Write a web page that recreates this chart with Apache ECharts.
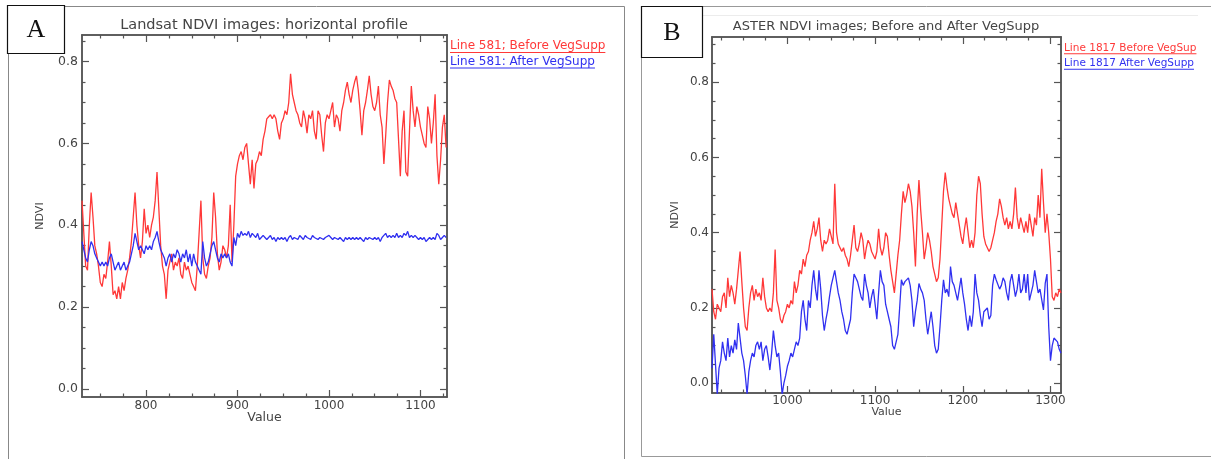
<!DOCTYPE html>
<html><head><meta charset="utf-8">
<script src="https://cdn.jsdelivr.net/npm/echarts@6/dist/echarts.min.js"></script>
<style>html,body{margin:0;padding:0;background:#fff}#c{width:1211px;height:459px}</style>
</head><body><div id="c"></div>
<script>
// ---------- DATA ----------
const aXStart = 730, aXStep = 2;
const aBefore = [
0.46,0.38,0.30,0.29,0.40,0.48,0.42,0.35,0.33,0.30,
0.26,0.25,0.28,0.27,0.31,0.36,0.30,0.23,0.24,0.22,
0.25,0.22,0.26,0.24,0.27,0.29,0.32,0.36,0.42,0.48,
0.40,0.35,0.32,0.36,0.44,0.38,0.40,0.37,0.40,0.42,
0.46,0.53,0.44,0.35,0.30,0.28,0.22,0.29,0.31,0.33,
0.29,0.31,0.30,0.32,0.28,0.27,0.31,0.29,0.30,0.28,
0.26,0.25,0.24,0.30,0.38,0.46,0.32,0.28,0.27,0.30,
0.32,0.37,0.48,0.42,0.33,0.29,0.31,0.35,0.34,0.32,
0.35,0.45,0.31,0.40,0.52,0.55,0.57,0.58,0.56,0.59,
0.60,0.55,0.50,0.56,0.49,0.55,0.56,0.58,0.57,0.61,
0.63,0.66,0.665,0.67,0.66,0.67,0.66,0.63,0.61,0.65,
0.66,0.68,0.67,0.70,0.77,0.72,0.70,0.68,0.67,0.65,
0.64,0.68,0.66,0.625,0.67,0.66,0.68,0.63,0.61,0.68,
0.67,0.62,0.58,0.65,0.67,0.66,0.68,0.70,0.64,0.67,
0.66,0.63,0.68,0.70,0.73,0.75,0.72,0.70,0.73,0.75,
0.765,0.73,0.68,0.62,0.68,0.70,0.73,0.765,0.72,0.69,
0.68,0.70,0.74,0.67,0.64,0.55,0.62,0.70,0.755,0.74,
0.73,0.71,0.70,0.61,0.52,0.63,0.68,0.53,0.52,0.63,
0.74,0.68,0.64,0.69,0.67,0.64,0.62,0.60,0.59,0.69,
0.66,0.60,0.65,0.72,0.57,0.50,0.56,0.64,0.67,0.59];
const aAfter = [
0.36,0.34,0.32,0.31,0.34,0.36,0.35,0.33,0.32,0.31,
0.30,0.31,0.30,0.31,0.30,0.32,0.33,0.31,0.29,0.30,
0.31,0.29,0.30,0.31,0.29,0.30,0.31,0.33,0.35,0.38,
0.36,0.34,0.35,0.34,0.33,0.35,0.34,0.35,0.34,0.36,
0.37,0.385,0.36,0.34,0.33,0.32,0.30,0.32,0.33,0.31,
0.33,0.32,0.34,0.33,0.31,0.33,0.32,0.34,0.31,0.33,
0.30,0.33,0.31,0.30,0.29,0.28,0.36,0.32,0.30,0.31,
0.33,0.35,0.36,0.34,0.32,0.31,0.33,0.32,0.33,0.32,
0.33,0.31,0.30,0.37,0.35,0.38,0.37,0.385,0.375,0.38,
0.375,0.385,0.37,0.38,0.375,0.37,0.38,0.365,0.37,0.375,
0.37,0.365,0.37,0.375,0.365,0.37,0.36,0.37,0.365,0.37,
0.365,0.37,0.36,0.37,0.375,0.365,0.37,0.37,0.365,0.375,
0.37,0.365,0.375,0.37,0.37,0.365,0.375,0.37,0.37,0.365,
0.37,0.37,0.365,0.37,0.37,0.375,0.37,0.365,0.37,0.37,
0.365,0.37,0.365,0.36,0.37,0.365,0.37,0.365,0.37,0.365,
0.37,0.365,0.37,0.365,0.36,0.37,0.365,0.37,0.37,0.365,
0.37,0.365,0.37,0.36,0.37,0.375,0.38,0.37,0.375,0.37,
0.375,0.37,0.38,0.37,0.375,0.37,0.38,0.375,0.385,0.37,
0.375,0.37,0.375,0.37,0.365,0.37,0.365,0.37,0.36,0.365,
0.37,0.365,0.37,0.365,0.38,0.375,0.365,0.37,0.375,0.37];

const bXStart = 914, bXStep = 2;
const bBefore = [
0.25,0.19,0.17,0.21,0.20,0.19,0.23,0.24,0.20,0.28,
0.23,0.26,0.24,0.21,0.25,0.30,0.35,0.27,0.20,0.15,
0.14,0.20,0.24,0.26,0.22,0.25,0.23,0.24,0.22,0.28,
0.23,0.20,0.19,0.20,0.19,0.24,0.355,0.22,0.20,0.17,
0.16,0.18,0.19,0.21,0.20,0.22,0.21,0.27,0.24,0.26,
0.30,0.29,0.33,0.31,0.34,0.35,0.38,0.40,0.43,0.39,
0.41,0.44,0.38,0.35,0.38,0.37,0.38,0.41,0.39,0.37,
0.53,0.40,0.37,0.36,0.35,0.36,0.34,0.33,0.31,0.34,
0.38,0.42,0.36,0.35,0.37,0.40,0.38,0.33,0.36,0.38,
0.37,0.35,0.34,0.33,0.35,0.41,0.36,0.34,0.36,0.40,
0.39,0.34,0.30,0.27,0.24,0.29,0.34,0.38,0.45,0.51,
0.48,0.50,0.53,0.51,0.47,0.40,0.31,0.45,0.54,0.46,
0.40,0.33,0.36,0.40,0.38,0.35,0.31,0.29,0.27,0.28,
0.33,0.42,0.51,0.56,0.52,0.49,0.47,0.45,0.44,0.48,
0.45,0.42,0.39,0.37,0.41,0.44,0.40,0.36,0.38,0.36,
0.40,0.50,0.55,0.53,0.45,0.39,0.37,0.36,0.35,0.36,
0.38,0.40,0.43,0.45,0.49,0.47,0.44,0.42,0.44,0.41,
0.43,0.41,0.45,0.52,0.44,0.41,0.44,0.42,0.40,0.43,
0.40,0.45,0.42,0.39,0.44,0.42,0.50,0.44,0.57,0.48,
0.40,0.45,0.40,0.33,0.23,0.22,0.24,0.23,0.25,0.24];
const bAfter = [
0.04,0.13,0.05,-0.03,0.04,0.06,0.11,0.08,0.06,0.12,
0.07,0.10,0.08,0.115,0.09,0.16,0.12,0.08,0.06,0.02,
-0.03,0.03,0.06,0.08,0.07,0.10,0.11,0.09,0.11,0.06,
0.09,0.10,0.07,0.035,0.08,0.14,0.10,0.07,0.08,0.03,
-0.03,0.00,0.02,0.045,0.06,0.08,0.07,0.09,0.11,0.10,
0.12,0.19,0.22,0.17,0.14,0.22,0.20,0.26,0.30,0.25,
0.22,0.30,0.25,0.18,0.14,0.17,0.195,0.23,0.26,0.28,
0.30,0.27,0.24,0.22,0.19,0.17,0.14,0.13,0.15,0.17,
0.24,0.29,0.28,0.27,0.25,0.23,0.22,0.29,0.26,0.24,
0.20,0.23,0.25,0.21,0.17,0.24,0.30,0.27,0.26,0.21,
0.19,0.17,0.15,0.10,0.09,0.11,0.13,0.20,0.275,0.26,
0.27,0.265,0.28,0.26,0.22,0.15,0.19,0.22,0.265,0.25,
0.24,0.22,0.17,0.13,0.16,0.19,0.15,0.10,0.08,0.09,
0.15,0.22,0.275,0.24,0.25,0.23,0.31,0.27,0.26,0.24,
0.22,0.25,0.28,0.24,0.21,0.17,0.14,0.18,0.15,0.19,
0.29,0.24,0.22,0.18,0.15,0.19,0.195,0.20,0.17,0.18,
0.26,0.29,0.275,0.27,0.25,0.26,0.28,0.27,0.24,0.22,
0.27,0.29,0.26,0.23,0.25,0.29,0.24,0.25,0.29,0.24,
0.29,0.22,0.24,0.26,0.30,0.27,0.24,0.25,0.25,0.195,
0.265,0.29,0.15,0.06,0.10,0.12,0.115,0.11,0.09,0.08];

const aXTicks = [800, 900, 1000, 1100];
const bXTicks = [1000, 1100, 1200, 1300];
const yTicks = [0.0, 0.2, 0.4, 0.6, 0.8];
const aTitle = 'Landsat NDVI images: horizontal profile';
const bTitle = 'ASTER NDVI images; Before and After VegSupp';
const aLegend = ['Line 581; Before VegSupp', 'Line 581: After VegSupp'];
const bLegend = ['Line 1817 Before VegSup', 'Line 1817 After VegSupp'];
const xName = 'Value', yName = 'NDVI';
const panelLetters = ['A', 'B'];

// ---------- STYLE ----------
const AX = '#555', TXT = '#444', FONT = 'DejaVu Sans';
const RED = '#ff3838', BLUE = '#3030f0';

function pairs(start, step, vals) { return vals.map((v, i) => [start + i * step, v]); }
function minorList(lo, hi, step, majors) {
  const out = [];
  for (let k = Math.ceil(lo / step - 1e-9); k * step <= hi + 1e-9; k++) {
    const r = Math.round(k * step * 1000) / 1000;
    if (!majors.some(m => Math.abs(m - r) < 1e-9)) out.push(r);
  }
  return out;
}

function axisSet(dim, grid, min, max, majors, minors, opt) {
  const base = { gridIndex: grid, type: 'value', min, max, splitLine: { show: false },
    axisLine: { show: true, onZero: false, lineStyle: { color: AX, width: 1.5 } } };
  const pos = dim === 'x' ? ['bottom', 'top'] : ['left', 'right'];
  const res = [];
  pos.forEach((p, pi) => {
    const major = Object.assign({}, base, {
      position: p,
      axisTick: { show: true, inside: true, length: 7, customValues: majors, lineStyle: { color: AX, width: 1.2 } },
      axisLabel: pi === 0 ? { show: true, customValues: majors, margin: opt.margin, color: TXT, fontFamily: FONT, fontSize: opt.fs,
        formatter: v => dim === 'y' ? Number(v).toFixed(1) : String(v) } : { show: false }
    });
    if (pi === 0) {
      major.name = opt.name; major.nameLocation = 'middle'; major.nameGap = opt.nameGap;
      major.nameMoveOverlap = false;
      major.nameTextStyle = { color: TXT, fontFamily: FONT, fontSize: opt.nfs };
    }
    const minor = Object.assign({}, base, {
      position: p,
      axisTick: { show: true, inside: true, length: 3.5, customValues: minors, lineStyle: { color: AX, width: 1.2 } },
      axisLabel: { show: false }
    });
    res.push(major, minor);
  });
  return res;
}

const aXR = [730, 1129], aYR = [-0.02, 0.865];
const bXR = [914, 1312], bYR = [-0.026, 0.92];

const xAxis = [].concat(
  axisSet('x', 0, aXR[0], aXR[1], aXTicks, minorList(aXR[0], aXR[1], 25, aXTicks), { margin: 3, name: xName, nameGap: 14, fs: 12, nfs: 12.5 }),
  axisSet('x', 1, bXR[0], bXR[1], bXTicks, minorList(bXR[0], bXR[1], 25, bXTicks), { margin: 2, name: xName, nameGap: 14, fs: 12, nfs: 11 })
);
const yAxis = [].concat(
  axisSet('y', 0, aYR[0], aYR[1], yTicks, minorList(aYR[0], aYR[1], 0.05, yTicks), { margin: 4, name: yName, nameGap: 36, fs: 12.5, nfs: 11 }),
  axisSet('y', 1, bYR[0], bYR[1], yTicks, minorList(bYR[0], bYR[1], 0.05, yTicks), { margin: 3, name: yName, nameGap: 31, fs: 12, nfs: 11 })
);

function lineSeries(xi, yi, data, color) {
  return { type: 'line', xAxisIndex: xi, yAxisIndex: yi, data, symbol: 'none', showSymbol: false, clip: true,
    lineStyle: { color, width: 1.3 }, itemStyle: { color }, animation: false, silent: true };
}

const ctx = document.createElement('canvas').getContext('2d');
function legendItems(x, y0, dy, texts, fs) {
  const cols = [RED, BLUE];
  const font = fs + 'px "DejaVu Sans"';
  ctx.font = font;
  const out = [];
  texts.forEach((t, i) => {
    const w = ctx.measureText(t).width;
    const y = y0 + i * dy;
    out.push({ type: 'text', x, y, silent: true,
      style: { text: t, fill: cols[i], font, textAlign: 'left', textVerticalAlign: 'middle' } });
    out.push({ type: 'line', silent: true, shape: { x1: x, y1: y + fs * 0.5 + 0.5, x2: x + w, y2: y + fs * 0.5 + 0.5 },
      style: { stroke: cols[i], lineWidth: 1 } });
  });
  return out;
}

const graphic = [
  { type: 'rect', silent: true, shape: { x: 8.5, y: 6.5, width: 616, height: 470 }, style: { fill: 'none', stroke: '#888', lineWidth: 1 } },
  { type: 'rect', silent: true, shape: { x: 641.5, y: 6.5, width: 600, height: 450 }, style: { fill: 'none', stroke: '#999', lineWidth: 1 } },
  { type: 'line', silent: true, shape: { x1: 702, y1: 15.5, x2: 1198, y2: 15.5 }, style: { stroke: '#ececec', lineWidth: 1 } },
  { type: 'rect', silent: true, shape: { x: 7.5, y: 5.5, width: 57, height: 48 }, style: { fill: '#fff', stroke: '#111', lineWidth: 1.2 } },
  { type: 'text', silent: true, x: 36, y: 30, style: { text: panelLetters[0], fill: '#111', font: '26px "Liberation Serif"', textAlign: 'center', textVerticalAlign: 'middle' } },
  { type: 'rect', silent: true, shape: { x: 641.5, y: 6.5, width: 61, height: 51 }, style: { fill: '#fff', stroke: '#111', lineWidth: 1.2 } },
  { type: 'text', silent: true, x: 672, y: 33, style: { text: panelLetters[1], fill: '#111', font: '26px "Liberation Serif"', textAlign: 'center', textVerticalAlign: 'middle' } },
  { type: 'text', silent: true, x: 264, y: 25, style: { text: aTitle, fill: TXT, font: '14.5px "DejaVu Sans"', textAlign: 'center', textVerticalAlign: 'middle' } },
  { type: 'text', silent: true, x: 886, y: 27, style: { text: bTitle, fill: TXT, font: '13px "DejaVu Sans"', textAlign: 'center', textVerticalAlign: 'middle' } }
].concat(legendItems(450, 46, 15.5, aLegend, 12), legendItems(1064, 48, 15.5, bLegend, 10.5));

const option = {
  animation: false,
  backgroundColor: '#fff',
  grid: [
    { left: 82, top: 35, width: 365, height: 362, containLabel: false },
    { left: 712, top: 37, width: 349, height: 356, containLabel: false }
  ],
  xAxis, yAxis,
  series: [
    lineSeries(0, 0, pairs(aXStart, aXStep, aBefore), RED),
    lineSeries(0, 0, pairs(aXStart, aXStep, aAfter), BLUE),
    lineSeries(4, 4, pairs(bXStart, bXStep, bBefore), RED),
    lineSeries(4, 4, pairs(bXStart, bXStep, bAfter), BLUE)
  ],
  graphic
};
const chart = echarts.init(document.getElementById('c'), null, { renderer: 'canvas' });
chart.setOption(option);
</script>
</body></html>
